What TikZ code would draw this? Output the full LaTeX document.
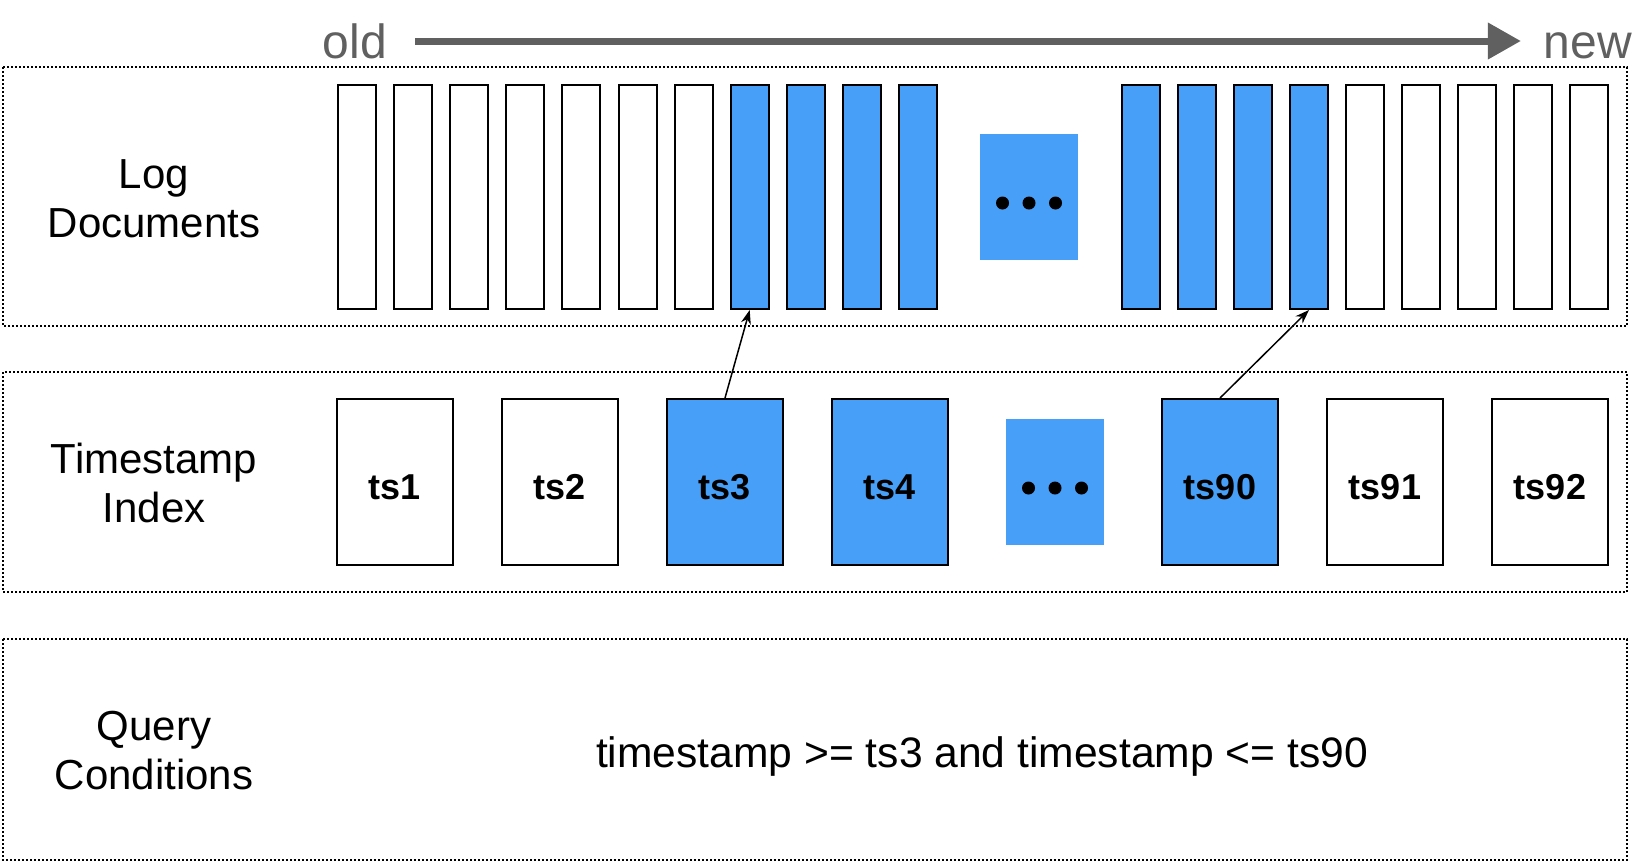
\documentclass[tikz,border=0pt]{standalone}
\usepackage{fontspec}
\setmainfont{Liberation Sans}
\usetikzlibrary{arrows.meta,positioning}
\definecolor{hitblue}{RGB}{71,159,248}
\definecolor{timegray}{RGB}{96,96,96}

\begin{document}
\begin{tikzpicture}[
    x=0.5pt, y=-0.5pt,
    node distance=82.5pt, on grid,
    lane/.style={draw, line width=0.9pt, dash pattern=on 1pt off 1pt},
    lanelabel/.style={align=center, font=\fontsize{21}{24.5}\selectfont},
    doc/.style={draw, line width=1pt, inner sep=0pt, minimum width=19pt, minimum height=112pt},
    hit/.style={fill=hitblue},
    tsbox/.style={draw, line width=1pt, minimum width=58pt, minimum height=83pt, text height=17pt, text depth=0pt, font=\bfseries\fontsize{18}{20}\selectfont},
    gapbox/.style={fill=hitblue, inner sep=0pt, minimum width=49pt, minimum height=63pt},
    timelabel/.style={anchor=base, text=timegray, font=\fontsize{24}{26}\selectfont},
    timeline/.style={timegray, line width=3.5pt, -{Triangle[length=16.5pt,width=17.5pt]}},
    link/.style={line width=0.75pt, -{Stealth[length=7pt,width=5pt]}}
]
\useasboundingbox (0,0) rectangle (1644,864);

% Time direction
\node[timelabel] (old) at (355,58) {old};
\node[timelabel] (new) at (1588,58) {new};
\draw[timeline, shorten <=10.5pt, shorten >=8pt] (old.east |- 0,41) -- (new.west |- 0,41);

% Lanes
\draw[lane] (3,67) rectangle (1627,326);
\draw[lane] (3,372) rectangle (1627,592);
\draw[lane] (3,639) rectangle (1627,860);
\node[lanelabel] (loglbl) at (154,199) {Log\\Documents};
\node[lanelabel] (tslbl) at (154,483) {Timestamp\\Index};
\node[lanelabel] (qlbl) at (154,751) {Query\\Conditions};

% Log documents, old part and new part
\foreach \i in {0,...,6}
    \node[doc] (docL\i) at (357+56.1*\i,197) {};
\foreach \i in {7,...,10}
    \node[doc, hit] (docL\i) at (357+56.1*\i,197) {};
\foreach \i in {0,...,3}
    \node[doc, hit] (docR\i) at (1141+56*\i,197) {};
\foreach \i in {4,...,8}
    \node[doc] (docR\i) at (1141+56*\i,197) {};
\node[gapbox] (gap1) at (1029,197) {};
\foreach \d in {-1,0,1}
    \fill ([shift={(\d*13.25pt,-3pt)}]gap1.center) circle (3.25pt);

% Timestamp index
\node[tsbox] (ts1) at (395,482) {ts1};
\node[tsbox, right=of ts1] (ts2) {ts2};
\node[tsbox, hit, right=of ts2] (ts3) {ts3};
\node[tsbox, hit, right=of ts3] (ts4) {ts4};
\node[gapbox, right=of ts4] (gap2) {};
\node[tsbox, hit, right=of gap2] (ts90) {ts90};
\node[tsbox, right=of ts90] (ts91) {ts91};
\node[tsbox, right=of ts91] (ts92) {ts92};
\foreach \d in {-1,0,1}
    \fill ([shift={(\d*13.25pt,-3pt)}]gap2.center) circle (3.25pt);

% Index entries point at documents
\draw[link] (ts3.north) -- (docL7.south);
\draw[link] (ts90.north) -- (docR3.south);

% Query
\node[font=\fontsize{21.3}{24}\selectfont] (query) at (982,756) {timestamp >= ts3 and timestamp <= ts90};

\end{tikzpicture}
\end{document}
